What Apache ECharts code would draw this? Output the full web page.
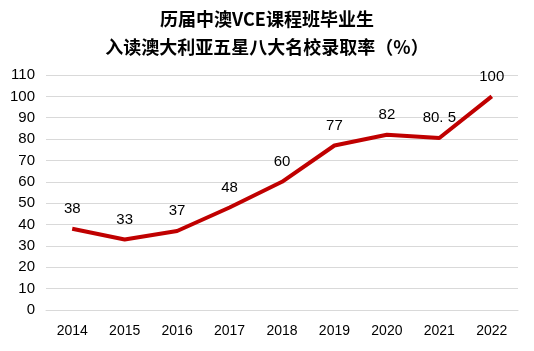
<!DOCTYPE html>
<html>
<head>
<meta charset="utf-8">
<script src="https://cdn.jsdelivr.net/npm/echarts@6/dist/echarts.min.js"></script>
<style>
  html, body { margin: 0; padding: 0; background: #fff; }
  #chart { width: 534px; height: 351px; }
</style>
</head>
<body>
<div id="chart"></div>
<script>
// 数据
var years = ['2014', '2015', '2016', '2017', '2018', '2019', '2020', '2021', '2022'];
var rates = [38, 33, 37, 48, 60, 77, 82, 80.5, 100];
var titleLines = ['历届中澳VCE课程班毕业生', '入读澳大利亚五星八大名校录取率（%）'];

var myChart = echarts.init(document.getElementById('chart'));

var option = {
    animation: false,
    title: {
        text: titleLines.join('\n'),
        left: 'center',
        top: 0,
        textStyle: {
            fontFamily: 'Noto Sans CJK SC',
            fontWeight: 'bold',
            fontSize: 18,
            lineHeight: 28,
            color: '#000'
        }
    },
    grid: { left: 46, right: 16, top: 75, bottom: 41 },
    xAxis: {
        type: 'category',
        data: years,
        axisLine: { lineStyle: { color: '#d9d9d9', width: 1 } },
        axisTick: { show: false },
        axisLabel: { color: '#000', fontSize: 14, fontFamily: 'Arial, Liberation Sans', margin: 14 }
    },
    yAxis: {
        type: 'value',
        min: 0,
        max: 110,
        interval: 10,
        axisLine: { show: false },
        axisTick: { show: false },
        splitLine: { lineStyle: { color: '#d9d9d9', width: 1 } },
        axisLabel: { color: '#000', fontSize: 15, fontFamily: 'Arial, Liberation Sans', margin: 11 }
    },
    series: [{
        type: 'line',
        data: rates,
        symbol: 'circle',
        symbolSize: 1,
        showSymbol: true,
        itemStyle: { color: 'transparent' },
        lineStyle: { color: '#c00000', width: 4 },
        label: {
            show: true,
            position: 'top',
            distance: 12,
            color: '#000',
            fontSize: 15,
            fontFamily: 'Arial, Liberation Sans',
            formatter: function (p) { return String(p.value).replace('.', '. '); }
        }
    }]
};

myChart.setOption(option);
</script>
</body>
</html>
